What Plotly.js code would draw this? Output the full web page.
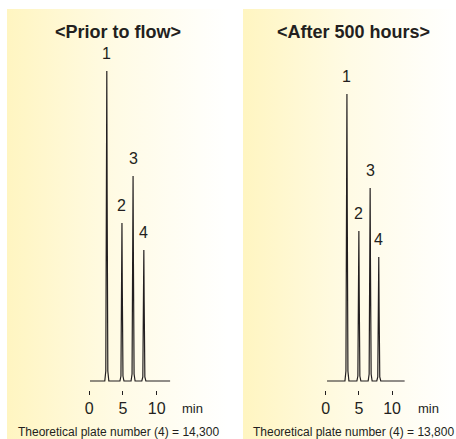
<!DOCTYPE html>
<html>
<head>
<meta charset="utf-8">
<script src="https://cdn.plot.ly/plotly-3.0.1.min.js"></script>
<style>
  html, body { margin: 0; padding: 0; background: #ffffff; }
  #chart { width: 456px; height: 439px; }
</style>
</head>
<body>
<div id="chart"></div>
<script>
// Chromatogram before flow (retention time in min, detector signal in arbitrary units)
const priorTime = [0.1, 2.3, 2.45, 2.55, 2.6, 2.65, 2.75, 2.9,
                   4.55, 4.7, 4.8, 4.85, 4.9, 5.0, 5.15,
                   6.2, 6.35, 6.45, 6.5, 6.55, 6.65, 6.8,
                   7.8, 7.95, 8.05, 8.1, 8.15, 8.25, 8.4, 12.0];
const priorSignal = [0, 0, 10, 186, 310, 186, 10, 0,
                     0, 5, 95, 158, 95, 5, 0,
                     0, 7, 123, 205, 123, 7, 0,
                     0, 4, 79, 131, 79, 4, 0, 0];

// Chromatogram after 500 hours of flow
const afterTime = [0.2, 2.9, 3.05, 3.15, 3.2, 3.25, 3.35, 3.5,
                   4.7, 4.85, 4.95, 5.0, 5.05, 5.15, 5.3,
                   6.4, 6.55, 6.65, 6.7, 6.75, 6.85, 7.0,
                   7.7, 7.85, 7.95, 8.0, 8.05, 8.15, 8.3, 11.9];
const afterSignal = [0, 0, 10, 172, 287, 172, 10, 0,
                     0, 5, 90, 150, 90, 5, 0,
                     0, 7, 116, 193, 116, 7, 0,
                     0, 4, 74, 124, 74, 4, 0, 0];

// Peak numbers with their apex positions
const peakNames = ['1', '2', '3', '4'];
const priorPeakTime = [2.6, 4.85, 6.5, 8.1];
const priorPeakHeight = [310, 158, 205, 131];
const afterPeakTime = [3.2, 5.0, 6.7, 8.0];
const afterPeakHeight = [287, 150, 193, 124];

const tickValues = [0, 5, 10];
const tickLabels = ['0', '5', '10'];

const panelTitles = ['&lt;Prior to flow&gt;', '&lt;After 500 hours&gt;'];
const plateNotes = ['Theoretical plate number (4) = 14,300',
                    'Theoretical plate number (4) = 13,800'];

const W = 456, H = 439;
const px = v => v / W;          // horizontal pixel -> paper
const py = v => (H - v) / H;    // vertical pixel -> paper

const FONT = 'Liberation Sans, Arial, Helvetica, sans-serif';
const INK = '#231f20';

const traceStyle = { mode: 'lines', line: { color: INK, width: 1.2 }, hoverinfo: 'skip', showlegend: false };

const data = [
  Object.assign({ x: priorTime, y: priorSignal, xaxis: 'x', yaxis: 'y' }, traceStyle),
  Object.assign({ x: afterTime, y: afterSignal, xaxis: 'x2', yaxis: 'y2' }, traceStyle)
];

function timeAxis(domain) {
  return {
    domain: domain, range: [-3, 15], fixedrange: true,
    showgrid: false, zeroline: false, showline: false,
    tickmode: 'array', tickvals: tickValues, ticktext: tickLabels,
    ticks: 'outside', ticklen: 4, tickwidth: 1, tickcolor: INK,
    tickfont: { family: FONT, size: 16, color: INK }
  };
}
function signalAxis(anchor) {
  return {
    domain: [py(389.5), py(40)], range: [-8.5, 341], anchor: anchor,
    visible: false, fixedrange: true
  };
}

// Soft yellow panel background fading to white
function gradientImage() {
  const svg = "<svg xmlns='http://www.w3.org/2000/svg' width='100' height='100' viewBox='0 0 100 100' preserveAspectRatio='none'>" +
    "<defs><linearGradient id='g' x1='0' y1='0' x2='1' y2='0'>" +
    "<stop offset='0' stop-color='#fff5c1'/><stop offset='0.5' stop-color='#fffbe5'/><stop offset='1' stop-color='#ffffff'/>" +
    "</linearGradient></defs><rect width='100' height='100' fill='url(#g)'/></svg>";
  return 'data:image/svg+xml;charset=utf-8,' + encodeURIComponent(svg);
}

const panels = [
  { left: 7, right: 228, xref: 'x', yref: 'y', times: priorPeakTime, heights: priorPeakHeight, center: 118, minX: 192 },
  { left: 243, right: 456, xref: 'x2', yref: 'y2', times: afterPeakTime, heights: afterPeakHeight, center: 353, minX: 428 }
];

const images = panels.map(p => ({
  source: gradientImage(), xref: 'paper', yref: 'paper',
  x: px(p.left), y: py(9), sizex: px(p.right - p.left), sizey: (439 - 9) / H,
  xanchor: 'left', yanchor: 'top', sizing: 'stretch', layer: 'below'
}));

const annotations = [];
panels.forEach((p, i) => {
  annotations.push({
    xref: 'paper', yref: 'paper', x: px(p.center), y: py(31.7),
    text: panelTitles[i], showarrow: false, xanchor: 'center', yanchor: 'middle',
    font: { family: FONT, size: 18, color: INK, weight: 'bold' }
  });
  annotations.push({
    xref: 'paper', yref: 'paper', x: px(p.center), y: py(431.7),
    text: plateNotes[i], showarrow: false, xanchor: 'center', yanchor: 'middle',
    font: { family: FONT, size: 12, color: INK }
  });
  annotations.push({
    xref: 'paper', yref: 'paper', x: px(p.minX), y: py(408),
    text: 'min', showarrow: false, xanchor: 'center', yanchor: 'middle',
    font: { family: FONT, size: 13, color: INK }
  });
  peakNames.forEach((name, k) => {
    annotations.push({
      xref: p.xref, yref: p.yref, x: p.times[k], y: p.heights[k], yshift: 18,
      text: name, showarrow: false, xanchor: 'center', yanchor: 'middle',
      font: { family: FONT, size: 16, color: INK }
    });
  });
});

const layout = {
  width: W, height: H,
  margin: { l: 0, r: 0, t: 0, b: 0, pad: 0 },
  paper_bgcolor: 'rgba(0,0,0,0)', plot_bgcolor: 'rgba(0,0,0,0)',
  showlegend: false,
  xaxis: timeAxis([px(69.1), px(190.3)]),
  yaxis: signalAxis('x'),
  xaxis2: timeAxis([px(305.8), px(425.2)]),
  yaxis2: signalAxis('x2'),
  images: images,
  annotations: annotations
};
layout.xaxis.anchor = 'y';
layout.xaxis2.anchor = 'y2';

Plotly.newPlot('chart', data, layout, { displayModeBar: false, staticPlot: true });
</script>
</body>
</html>
